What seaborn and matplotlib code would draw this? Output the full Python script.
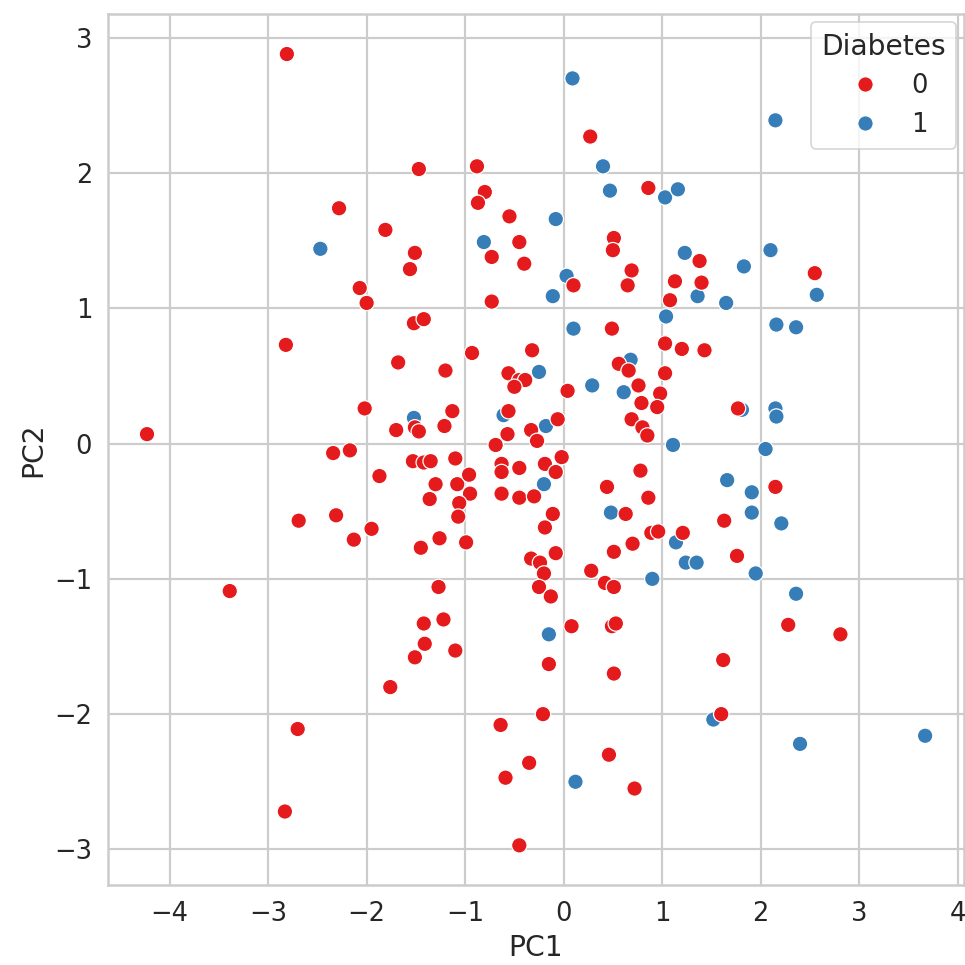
import numpy as np
import pandas as pd
import matplotlib.pyplot as plt
import seaborn as sns

# PCA scores, non-diabetic (0)
pc1_0 = [-2.81, -1.47, -0.88, -0.80, -0.87, -2.28, -0.55, -1.81, -0.45, -1.51,
         -0.73, -0.40, -1.56, -2.07, -2.00, -0.73, 0.27, 0.86, 0.51, 0.50,
         1.38, 0.10, 0.69, 0.65, 1.13, 1.40, 1.08, 2.55, -2.82, -4.23,
         -2.69, -3.39, -0.93, -1.68, -1.20, -2.02, -1.13, -1.70, -1.51, -1.47,
         -1.21, -1.52, -1.42, -2.34, -2.17, -1.53, -1.42, -1.35, -1.10, -1.87,
         -1.30, -1.08, -0.96, -0.95, -1.36, -1.06, -1.07, -2.31, -1.95, -2.13,
         -1.26, -1.45, -0.99, -1.27, -0.32, -0.56, -0.45, -0.39, -0.50, -0.56,
         -0.57, -0.33, -0.27, -0.69, -0.63, -0.63, -0.45, -0.19, -0.63, -0.45,
         -0.30, -0.19, -0.33, -0.24, -0.20, -0.25, -0.06, -0.02, -0.08, -0.11,
         -0.08, -0.13, 0.49, 0.04, 0.56, 0.66, 0.76, 0.79, 0.69, 0.80,
         0.85, 1.03, 1.20, 1.43, 1.03, 0.98, 0.95, 1.77, 0.78, 0.44,
         0.86, 0.63, 0.89, 0.96, 1.21, 0.70, 0.51, 0.28, 0.42, 0.51,
         1.63, 1.76, 2.15, -2.70, -2.83, -1.42, -1.22, -1.41, -1.51, -1.10,
         -1.76, -0.64, -0.35, -0.59, -0.45, -0.21, -0.15, 0.08, 0.49, 0.53,
         0.51, 1.62, 1.60, 0.46, 0.72, 2.28, 2.81]
pc2_0 = [2.88, 2.03, 2.05, 1.86, 1.78, 1.74, 1.68, 1.58, 1.49, 1.41,
         1.38, 1.33, 1.29, 1.15, 1.04, 1.05, 2.27, 1.89, 1.52, 1.43,
         1.35, 1.17, 1.28, 1.17, 1.20, 1.19, 1.06, 1.26, 0.73, 0.07,
         -0.57, -1.09, 0.67, 0.60, 0.54, 0.26, 0.24, 0.10, 0.12, 0.09,
         0.13, 0.89, 0.92, -0.07, -0.05, -0.13, -0.14, -0.13, -0.11, -0.24,
         -0.30, -0.30, -0.23, -0.37, -0.41, -0.44, -0.54, -0.53, -0.63, -0.71,
         -0.70, -0.77, -0.73, -1.06, 0.69, 0.52, 0.47, 0.47, 0.42, 0.24,
         0.07, 0.10, 0.02, -0.01, -0.15, -0.21, -0.18, -0.15, -0.37, -0.40,
         -0.39, -0.62, -0.85, -0.88, -0.96, -1.06, 0.18, -0.10, -0.21, -0.52,
         -0.81, -1.13, 0.85, 0.39, 0.59, 0.54, 0.43, 0.30, 0.18, 0.12,
         0.06, 0.74, 0.70, 0.69, 0.52, 0.37, 0.27, 0.26, -0.20, -0.32,
         -0.40, -0.52, -0.66, -0.65, -0.66, -0.74, -0.80, -0.94, -1.03, -1.06,
         -0.57, -0.83, -0.32, -2.11, -2.72, -1.33, -1.30, -1.48, -1.58, -1.53,
         -1.80, -2.08, -2.36, -2.47, -2.97, -2.00, -1.63, -1.35, -1.35, -1.33,
         -1.70, -1.60, -2.00, -2.30, -2.55, -1.34, -1.41]

# PCA scores, diabetic (1)
pc1_1 = [-2.47, 0.09, 0.40, 0.47, 1.03, 1.16, -0.08, -0.81, 1.23, 1.83,
         0.03, -0.11, 1.36, 1.65, 2.15, 2.10, 2.57, 1.04, 0.10, -0.25,
         0.68, 0.29, 0.61, -0.61, -0.18, -1.52, -0.20, 0.48, 1.81, 1.11,
         1.66, 1.91, 1.91, 1.95, 2.21, 2.05, 2.15, 2.16, 2.16, 2.36,
         2.36, 2.40, 3.67, 1.52, -0.15, 0.12, 0.90, 1.14, 1.24, 1.35]
pc2_1 = [1.44, 2.70, 2.05, 1.87, 1.82, 1.88, 1.66, 1.49, 1.41, 1.31,
         1.24, 1.09, 1.09, 1.04, 2.39, 1.43, 1.10, 0.94, 0.85, 0.53,
         0.62, 0.43, 0.38, 0.21, 0.13, 0.19, -0.30, -0.51, 0.25, -0.01,
         -0.27, -0.36, -0.51, -0.96, -0.59, -0.04, 0.26, 0.20, 0.88, 0.86,
         -1.11, -2.22, -2.16, -2.04, -1.41, -2.50, -1.00, -0.73, -0.88, -0.88]

df = pd.concat([
    pd.DataFrame({'PC1': pc1_1, 'PC2': pc2_1, 'Diabetes': 1}),
    pd.DataFrame({'PC1': pc1_0, 'PC2': pc2_0, 'Diabetes': 0}),
], ignore_index=True)

sns.set_theme(style='whitegrid', font_scale=1.4,
              rc={'grid.linewidth': 1.3, 'axes.linewidth': 1.5})

fig, ax = plt.subplots(figsize=(8, 8), dpi=120.625)
sns.scatterplot(data=df, x='PC1', y='PC2', hue='Diabetes', hue_order=[0, 1],
                palette='Set1', s=85, ax=ax)
ax.legend(title='Diabetes', loc='upper right', borderaxespad=0.3)

fig.subplots_adjust(left=0.112, right=0.999, top=0.985, bottom=0.083)
plt.savefig('out.png')
